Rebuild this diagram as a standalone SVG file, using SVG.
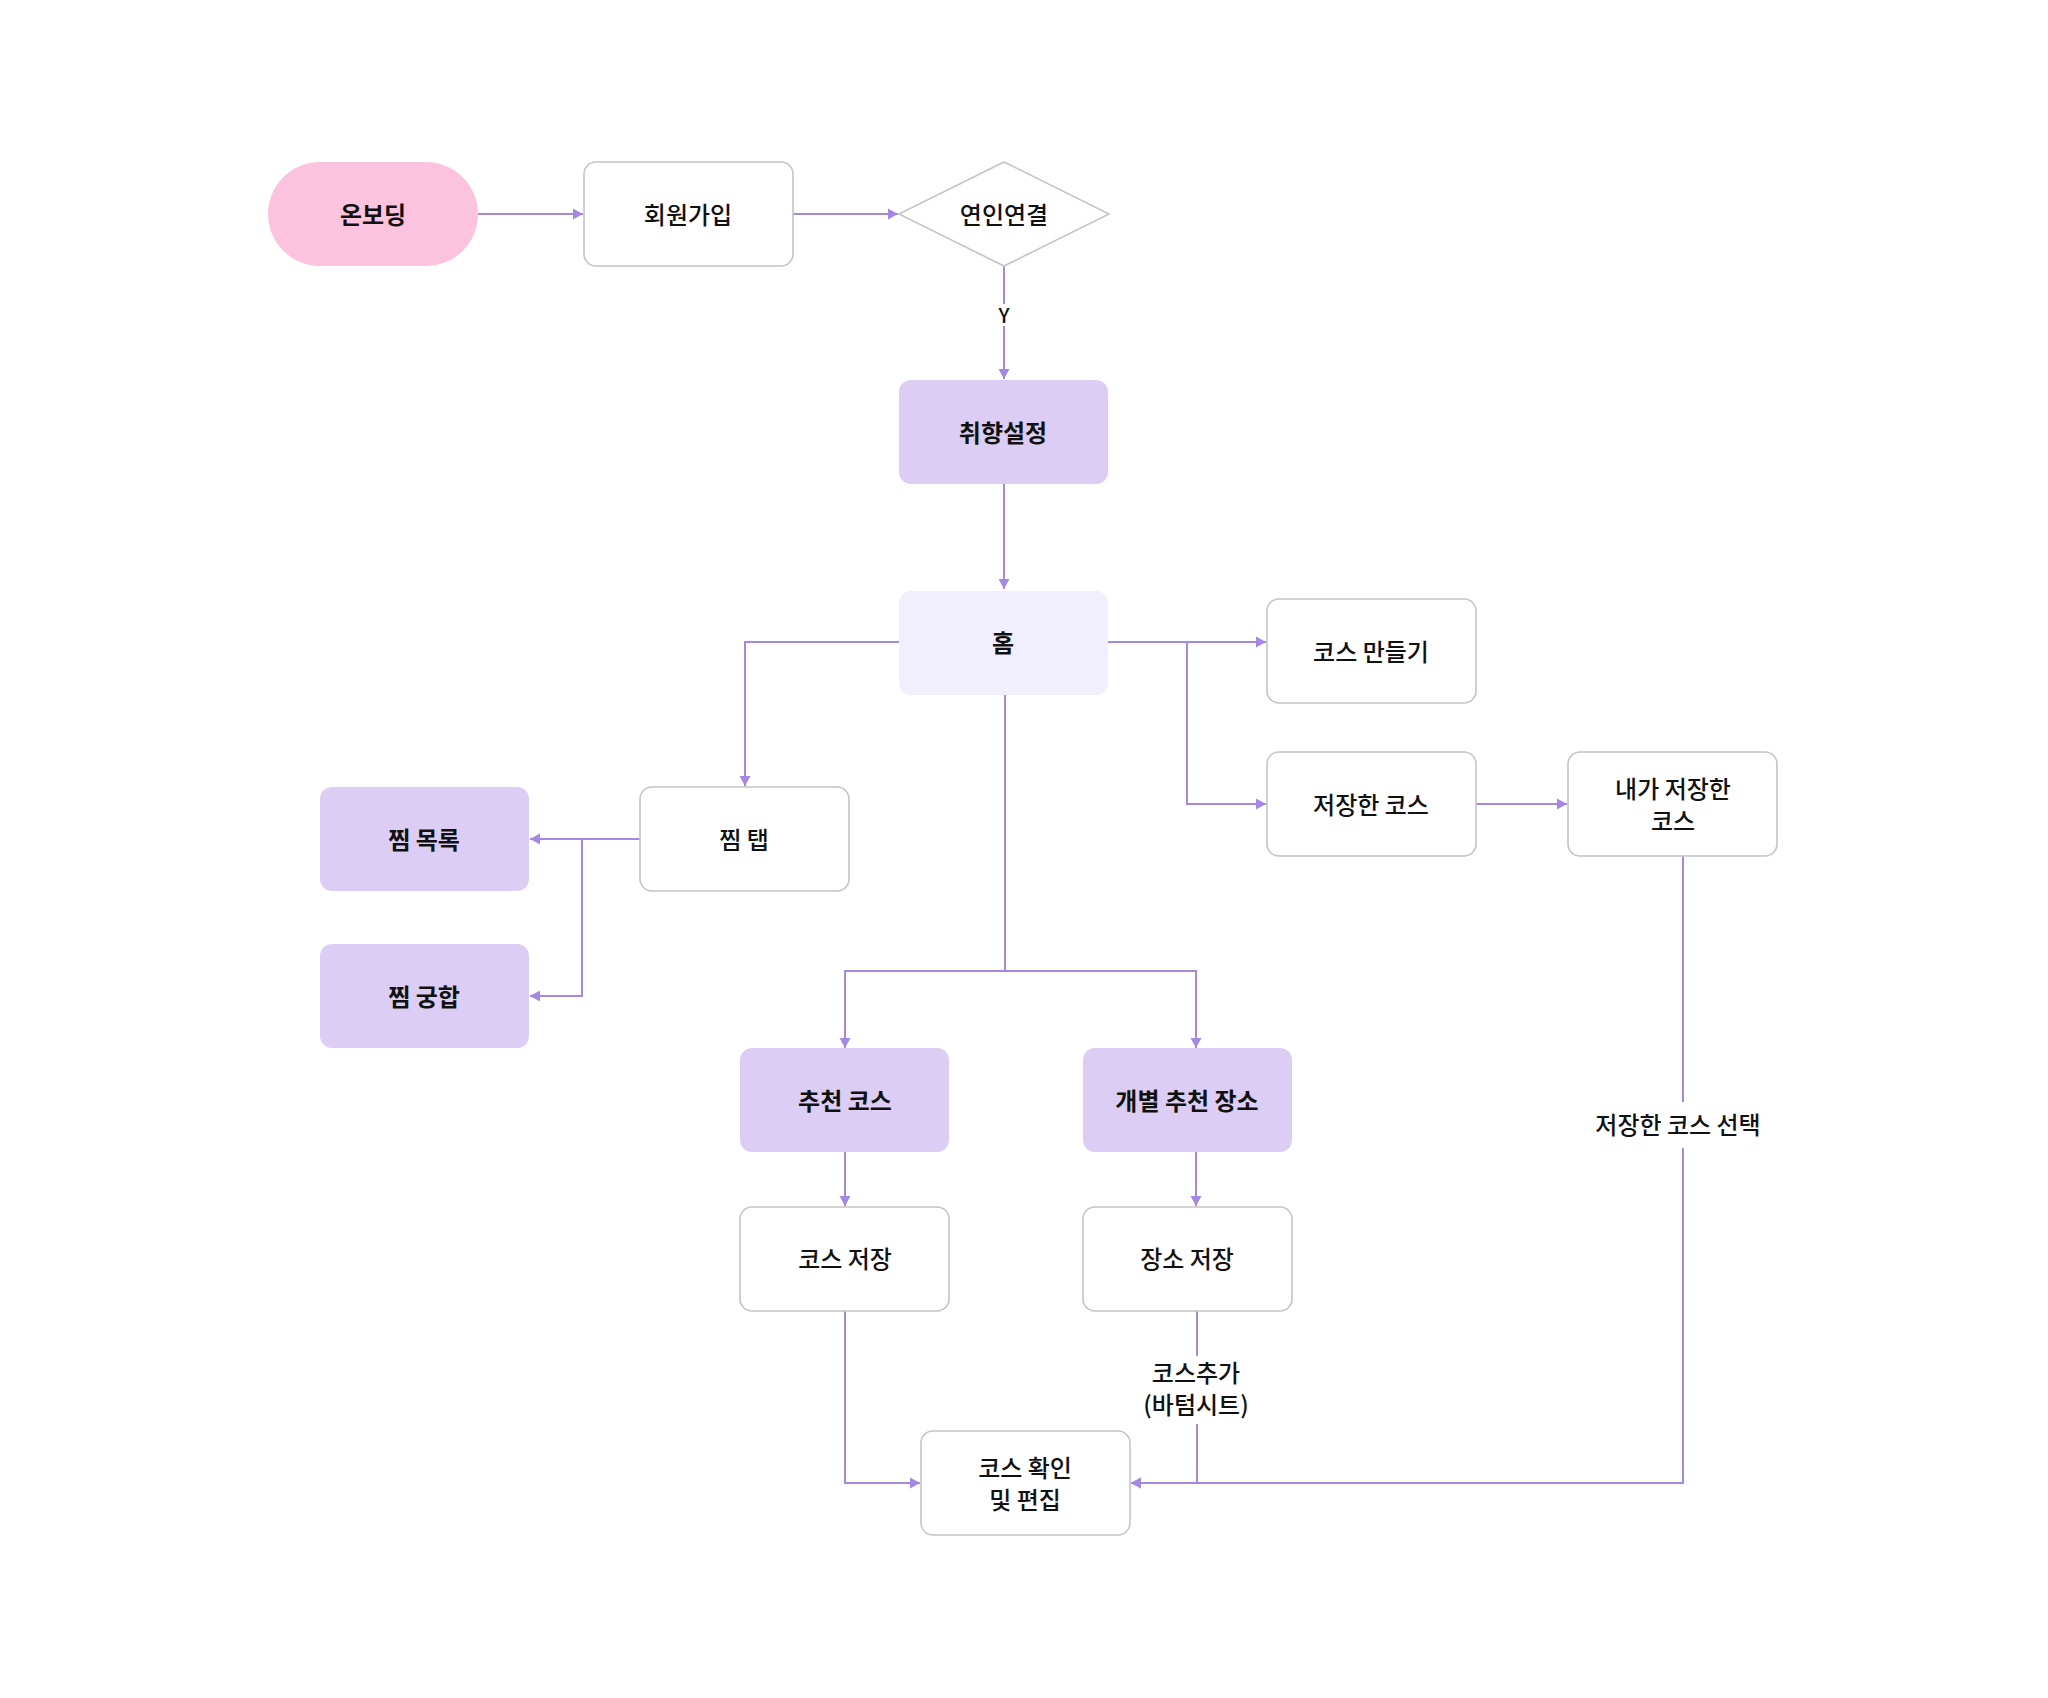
<svg xmlns="http://www.w3.org/2000/svg" width="2048" height="1698" viewBox="0 0 2048 1698">
<style>
  .t { font-family: "Pretendard", "Noto Sans CJK KR", "Noto Sans", sans-serif; font-size: 24px; fill: #111111; text-anchor: middle; dominant-baseline: central; }
  .b { font-weight: 700; }
  .m { font-weight: 500; }
  .white { fill: #FFFFFF; stroke: #C4C4C4; stroke-width: 1.6; }
  .lav { fill: #DBCDF4; }
  .pink { fill: #FBC3DD; }
  .home { fill: #F1EEFD; }
  .edge { fill: none; stroke: #A587E4; stroke-width: 2; }
  .lblbg { fill: #FFFFFF; }
</style>
<defs>
  <marker id="arr" markerUnits="userSpaceOnUse" markerWidth="12" markerHeight="12" refX="10" refY="6" orient="auto">
    <path d="M0,0.5 L10,6 L0,11.5 z" fill="#A587E4"/>
  </marker>
</defs>
<rect width="2048" height="1698" fill="#FFFFFF"/>

<g id="connectors">
  <path class="edge" d="M478,214 H583" marker-end="url(#arr)"/>
  <path class="edge" d="M793,214 H898" marker-end="url(#arr)"/>
  <path class="edge" d="M1004,266 V379" marker-end="url(#arr)"/>
  <path class="edge" d="M1004,484 V589" marker-end="url(#arr)"/>
  <path class="edge" d="M899,642 H745 V786" marker-end="url(#arr)"/>
  <path class="edge" d="M1108,642 H1266" marker-end="url(#arr)"/>
  <path class="edge" d="M1187,642 V804 H1266" marker-end="url(#arr)"/>
  <path class="edge" d="M1476,804 H1567" marker-end="url(#arr)"/>
  <path class="edge" d="M640,839 H530" marker-end="url(#arr)"/>
  <path class="edge" d="M582,839 V996 H530" marker-end="url(#arr)"/>
  <path class="edge" d="M1005,695 V971 H845 V1048" marker-end="url(#arr)"/>
  <path class="edge" d="M1005,971 H1196 V1048" marker-end="url(#arr)"/>
  <path class="edge" d="M845,1152 V1206" marker-end="url(#arr)"/>
  <path class="edge" d="M1196,1152 V1206" marker-end="url(#arr)"/>
  <path class="edge" d="M845,1310 V1483 H920" marker-end="url(#arr)"/>
  <path class="edge" d="M1197,1310 V1483 H1131" marker-end="url(#arr)"/>
  <path class="edge" d="M1683,855 V1483 H1131" marker-end="url(#arr)"/>
  <rect class="lblbg" x="990" y="304" width="28" height="22"/>
  <text class="t m" x="1004" y="314" style="font-size:20px">Y</text>
  <rect class="lblbg" x="1138" y="1356" width="118" height="68"/>
  <text class="t m" x="1196" y="1371">코스추가</text>
  <text class="t m" x="1196" y="1403">(바텀시트)</text>
  <rect class="lblbg" x="1590" y="1102" width="176" height="46"/>
  <text class="t m" x="1678" y="1123">저장한 코스 선택</text>
</g>

<g id="n-onboarding">
  <rect class="pink" x="268" y="162" width="210" height="104" rx="52"/>
  <text class="t b" x="373" y="213">온보딩</text>
</g>
<g id="n-signup">
  <rect class="white" x="584" y="162" width="209" height="104" rx="12"/>
  <text class="t m" x="688" y="213">회원가입</text>
</g>
<g id="n-couple">
  <polygon class="white" points="1004,162 1109,214 1004,266 899,214"/>
  <text class="t m" x="1004" y="213">연인연결</text>
</g>
<g id="n-taste">
  <rect class="lav" x="899" y="380" width="209" height="104" rx="12"/>
  <text class="t b" x="1003" y="431">취향설정</text>
</g>
<g id="n-home">
  <rect class="home" x="899" y="591" width="209" height="104" rx="12"/>
  <text class="t b" x="1003" y="641">홈</text>
</g>
<g id="n-make-course">
  <rect class="white" x="1267" y="599" width="209" height="104" rx="12"/>
  <text class="t m" x="1371" y="650">코스 만들기</text>
</g>
<g id="n-saved-course">
  <rect class="white" x="1267" y="752" width="209" height="104" rx="12"/>
  <text class="t m" x="1371" y="803">저장한 코스</text>
</g>
<g id="n-my-saved">
  <rect class="white" x="1568" y="752" width="209" height="104" rx="12"/>
  <text class="t m" x="1673" y="787">내가 저장한</text>
  <text class="t m" x="1673" y="819">코스</text>
</g>
<g id="n-zzim-tab">
  <rect class="white" x="640" y="787" width="209" height="104" rx="12"/>
  <text class="t m" x="744" y="838">찜 탭</text>
</g>
<g id="n-zzim-list">
  <rect class="lav" x="320" y="787" width="209" height="104" rx="12"/>
  <text class="t b" x="424" y="838">찜 목록</text>
</g>
<g id="n-zzim-match">
  <rect class="lav" x="320" y="944" width="209" height="104" rx="12"/>
  <text class="t b" x="424" y="995">찜 궁합</text>
</g>
<g id="n-rec-course">
  <rect class="lav" x="740" y="1048" width="209" height="104" rx="12"/>
  <text class="t b" x="845" y="1099">추천 코스</text>
</g>
<g id="n-rec-place">
  <rect class="lav" x="1083" y="1048" width="209" height="104" rx="12"/>
  <text class="t b" x="1187" y="1099">개별 추천 장소</text>
</g>
<g id="n-save-course">
  <rect class="white" x="740" y="1207" width="209" height="104" rx="12"/>
  <text class="t m" x="845" y="1257">코스 저장</text>
</g>
<g id="n-save-place">
  <rect class="white" x="1083" y="1207" width="209" height="104" rx="12"/>
  <text class="t m" x="1187" y="1257">장소 저장</text>
</g>
<g id="n-course-edit">
  <rect class="white" x="921" y="1431" width="209" height="104" rx="12"/>
  <text class="t m" x="1025" y="1466">코스 확인</text>
  <text class="t m" x="1025" y="1498">및 편집</text>
</g>
</svg>
